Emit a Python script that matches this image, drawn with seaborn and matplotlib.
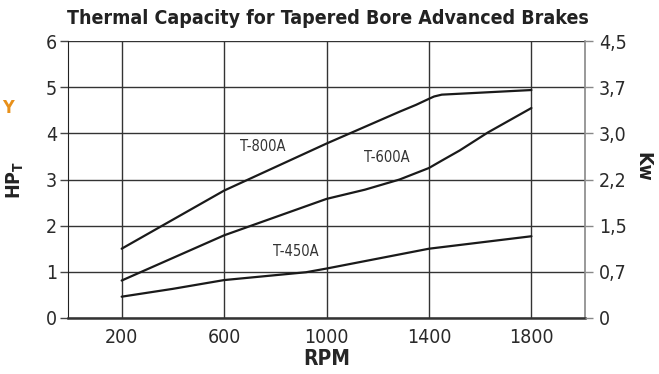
import pandas as pd
import seaborn as sns
import matplotlib
matplotlib.use('Agg')
import matplotlib.pyplot as plt

# values (RPM vs HP_T)
rpm_800 = [200, 600, 1000, 1285, 1350, 1400, 1420, 1450, 1800]
hp_800 = [1.50, 2.76, 3.78, 4.47, 4.62, 4.75, 4.80, 4.84, 4.94]

rpm_600 = [200, 600, 1000, 1150, 1285, 1400, 1450, 1520, 1630, 1800]
hp_600 = [0.81, 1.79, 2.58, 2.78, 3.00, 3.25, 3.41, 3.63, 4.02, 4.55]

rpm_450 = [200, 400, 600, 920, 1000, 1400, 1800]
hp_450 = [0.46, 0.63, 0.82, 0.99, 1.07, 1.50, 1.77]

x_ticks = [200, 600, 1000, 1400, 1800]
hp_ticks = [0, 1, 2, 3, 4, 5, 6]
kw_labels = ['0', '0,7', '1,5', '2,2', '3,0', '3,7', '4,5']

curve_labels = {'T-800A': (750, 3.71), 'T-600A': (1234, 3.48), 'T-450A': (879, 1.45)}

df = pd.concat([
    pd.DataFrame({'RPM': rpm_800, 'HP': hp_800, 'model': 'T-800A'}),
    pd.DataFrame({'RPM': rpm_600, 'HP': hp_600, 'model': 'T-600A'}),
    pd.DataFrame({'RPM': rpm_450, 'HP': hp_450, 'model': 'T-450A'}),
])

sns.set_style('white')
plt.rcParams['font.family'] = ['DejaVu Sans']
plt.rcParams['font.stretch'] = 'condensed'
plt.rcParams['mathtext.fontset'] = 'custom'
plt.rcParams['mathtext.rm'] = 'DejaVu Sans:stretch=condensed'
plt.rcParams['mathtext.bf'] = 'DejaVu Sans:weight=bold:stretch=condensed'

fig = plt.figure(figsize=(6.59, 3.74), dpi=100)
ax = fig.add_axes([0.103, 0.150, 0.785, 0.740])

sns.lineplot(data=df, x='RPM', y='HP', hue='model', sort=False,
             palette=['#1a1a1a'] * 3, linewidth=1.6, legend=False, ax=ax)

ax.set_xlim(-10, 2010)
ax.set_ylim(0, 6)
ax.set_xticks(x_ticks)
ax.set_yticks(hp_ticks)
ax.tick_params(axis='both', labelsize=14, length=6, width=1, color='#444444', colors='#2a2a2a')
ax.tick_params(axis='x', length=0, pad=7)
ax.tick_params(axis='y', pad=2)
ax.grid(True, color='#333333', linewidth=1)

ax.spines['top'].set_visible(False)
ax.spines['left'].set_color('#222222')
ax.spines['bottom'].set_color('#333333')
ax.spines['bottom'].set_linewidth(1.8)
ax.spines['right'].set_color('#888888')
ax.spines['right'].set_linewidth(1.2)

ax.set_xlabel('RPM', fontsize=15, fontweight='bold', labelpad=2)
ax.set_ylabel('')

ax2 = ax.twinx()
ax2.set_ylim(0, 6)
ax2.set_yticks(hp_ticks)
ax2.set_yticklabels(kw_labels)
ax2.tick_params(axis='y', labelsize=14, length=6, width=1, pad=4, color='#888888', colors='#2a2a2a')
for s in ['top', 'left', 'bottom', 'right']:
    ax2.spines[s].set_visible(False)

fig.text(0.024, 0.52, r'$\mathbf{HP}_\mathbf{T}$', fontsize=14, rotation=90,
         ha='center', va='center', color='#222222')
fig.text(0.975, 0.555, 'Kw', fontsize=14, fontweight='bold', rotation=270,
         ha='center', va='center', color='#222222')

for name, (xv, yv) in curve_labels.items():
    ax.text(xv, yv, name, fontsize=10.5, ha='center', va='center', color='#333333')

fig.text(0.498, 0.950, 'Thermal Capacity for Tapered Bore Advanced Brakes',
         fontsize=14, fontweight='bold', ha='center', va='center', color='#222222')
fig.text(0.003, 0.712, 'Y', fontsize=13, fontweight='bold', color='#e8901a',
         ha='left', va='center')

fig.savefig('out.png', dpi=100)
